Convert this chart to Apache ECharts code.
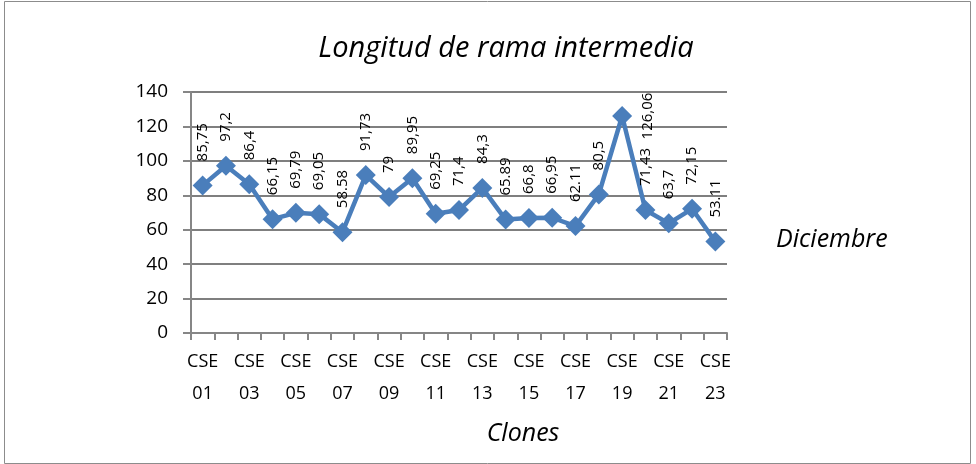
<!DOCTYPE html>
<html lang="es">
<head>
    <meta charset="UTF-8">
    <title>Longitud de rama intermedia</title>
    <script src="https://cdn.jsdelivr.net/npm/echarts@6/dist/echarts.min.js"></script>
    <style>
        html, body { margin: 0; padding: 0; background: #fff; }
        #chart { width: 976px; height: 464px; }
    </style>
</head>
<body>
<div id="chart"></div>
<script>
    // datos
    var clones = ['CSE 01', 'CSE 02', 'CSE 03', 'CSE 04', 'CSE 05', 'CSE 06', 'CSE 07', 'CSE 08',
        'CSE 09', 'CSE 10', 'CSE 11', 'CSE 12', 'CSE 13', 'CSE 14', 'CSE 15', 'CSE 16',
        'CSE 17', 'CSE 18', 'CSE 19', 'CSE 20', 'CSE 21', 'CSE 22', 'CSE 23'];
    var diciembre = [85.75, 97.2, 86.4, 66.15, 69.79, 69.05, 58.58, 91.73, 79, 89.95, 69.25, 71.4,
        84.3, 65.89, 66.8, 66.95, 62.11, 80.5, 126.06, 71.43, 63.7, 72.15, 53.11];
    var etiquetas = ['85,75', '97,2', '86,4', '66,15', '69,79', '69,05', '58.58', '91,73', '79', '89,95',
        '69,25', '71,4', '84,3', '65.89', '66,8', '66,95', '62.11', '80,5', '126,06', '71,43',
        '63,7', '72,15', '53.11'];
    var yTicks = [0, 20, 40, 60, 80, 100, 120, 140];

    var font = '"Open Sans", "Noto Sans", sans-serif';

    // el punto mas alto lleva la etiqueta a la derecha, como en el original
    var puntos = diciembre.map(function (v, i) {
        if (i === diciembre.indexOf(Math.max.apply(null, diciembre))) {
            return {
                value: v,
                label: { position: 'right', distance: 16, align: 'center', offset: [0, -9] }
            };
        }
        return v;
    });

    var myChart = echarts.init(document.getElementById('chart'));
    var option = {
        animation: false,
        textStyle: { fontFamily: font },
        title: {
            text: 'Longitud de rama intermedia',
            left: 501,
            top: 29,
            textAlign: 'center',
            textStyle: { fontSize: 29, fontStyle: 'italic', fontWeight: 'normal', color: '#000', fontFamily: font }
        },
        legend: {
            data: ['Diciembre'],
            icon: 'none',
            itemWidth: 0,
            left: 766,
            top: 222,
            textStyle: { fontSize: 25, fontStyle: 'italic', color: '#000', fontFamily: font }
        },
        graphic: [{
            type: 'rect',
            shape: { x: 4.5, y: 1.5, width: 966, height: 462 },
            style: { fill: 'none', stroke: '#8c8c8c', lineWidth: 1 }
        }],
        grid: { left: 191, right: 249, top: 92, bottom: 131 },
        xAxis: {
            type: 'category',
            data: clones,
            boundaryGap: true,
            name: 'Clones',
            nameLocation: 'middle',
            nameGap: 88,
            nameTextStyle: { fontSize: 25, fontStyle: 'italic', color: '#000', fontFamily: font, padding: [0, 0, 0, 128] },
            axisLine: { lineStyle: { color: '#868686', width: 2 } },
            axisTick: { show: true, alignWithLabel: false, interval: 0, length: 7, lineStyle: { color: '#868686', width: 2 } },
            axisLabel: {
                interval: 1,
                color: '#000',
                fontSize: 18,
                lineHeight: 32,
                margin: 13,
                formatter: function (v) { return v.replace(' ', '\n'); }
            }
        },
        yAxis: {
            type: 'value',
            min: 0,
            max: 140,
            interval: 20,
            axisLine: { show: true, lineStyle: { color: '#868686', width: 2 } },
            axisTick: { show: true, length: 8, lineStyle: { color: '#868686', width: 2 } },
            axisLabel: {
                color: '#000',
                fontSize: 19,
                margin: 23,
                formatter: function (v) { return yTicks.indexOf(v) >= 0 ? String(v) : ''; }
            },
            splitLine: { lineStyle: { color: '#7f7f7f', width: 2 } }
        },
        series: [{
            name: 'Diciembre',
            type: 'line',
            data: puntos,
            symbol: 'diamond',
            symbolSize: 20,
            showAllSymbol: true,
            lineStyle: { color: '#4a7ebb', width: 4.5 },
            itemStyle: { color: '#4a7ebb' },
            label: {
                show: true,
                position: 'top',
                distance: 14,
                rotate: 90,
                align: 'left',
                verticalAlign: 'middle',
                fontSize: 15,
                color: '#000',
                formatter: function (p) { return etiquetas[p.dataIndex]; }
            },
            labelLayout: { hideOverlap: false }
        }]
    };
    myChart.setOption(option);
</script>
</body>
</html>
